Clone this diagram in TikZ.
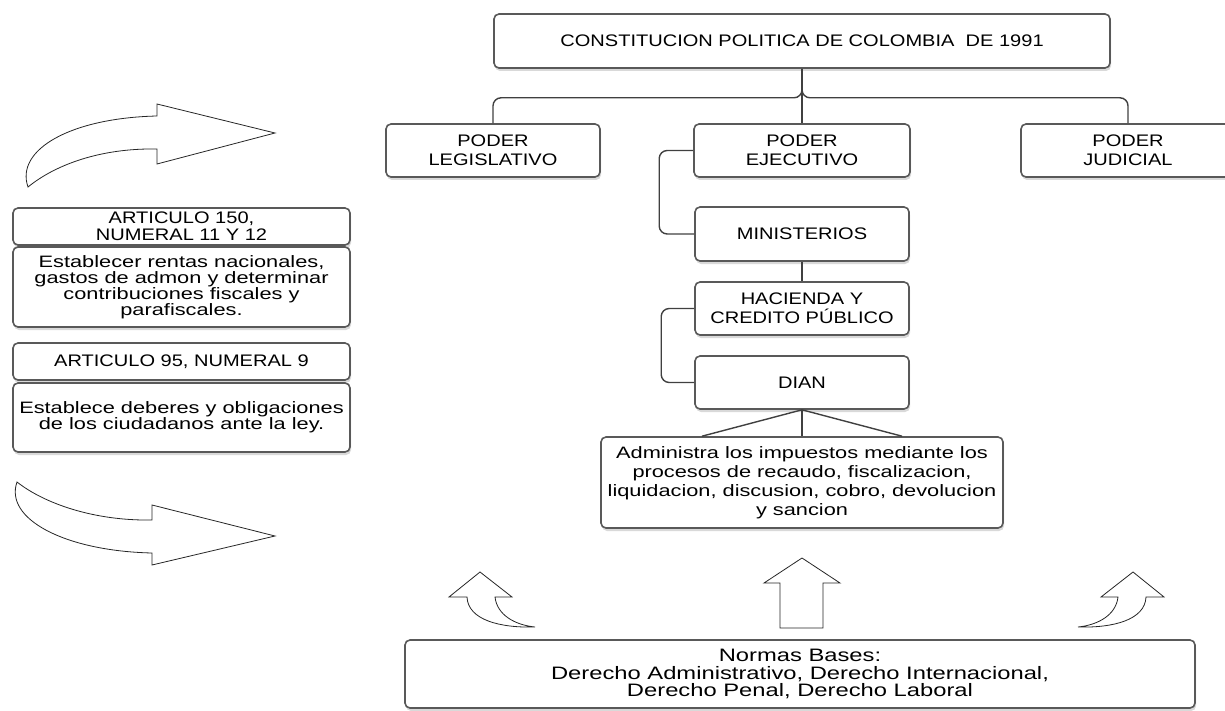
\documentclass[tikz,border=0pt]{standalone}
\usepackage{fontspec}
\setmainfont{Liberation Sans}[FakeStretch=1.2]
\newfontfamily\ancha{Liberation Sans}[FakeStretch=1.32]
\usetikzlibrary{shadows}

\begin{document}
\begin{tikzpicture}[x=1pt, y=-1pt,
    caja/.style={draw=black!65, line width=1.6pt, rounded corners=5pt, fill=white, align=center, inner sep=1pt,
        drop shadow={shadow xshift=1pt, shadow yshift=-3pt, opacity=0.3}, font=\fontsize{16.7}{19}\selectfont},
    texto/.style={font=\ancha\fontsize{16.5}{16}\selectfont},
    linea/.style={draw=black!75, line width=1.4pt},
    flecha/.style={draw=black!85, line width=0.8pt, fill=white}]
    \useasboundingbox (0,0) rectangle (1225,711);

    % estructura del estado
    \node[caja, minimum width=616, minimum height=54] (0) at (802,41) {CONSTITUCION POLITICA DE COLOMBIA\ \ DE 1991};
    \node[caja, minimum width=214, minimum height=53] (1) at (493,150.5) {PODER\\LEGISLATIVO};
    \node[caja, minimum width=216, minimum height=53] (2) at (802,150.5) {PODER\\EJECUTIVO};
    \node[caja, minimum width=214, minimum height=53] (3) at (1128,150.5) {PODER\\JUDICIAL};
    \node[caja, minimum width=214, minimum height=54] (4) at (802,234) {MINISTERIOS};
    \node[caja, minimum width=214, minimum height=53] (5) at (802,308.5) {HACIENDA Y\\CREDITO PÚBLICO};
    \node[caja, minimum width=214, minimum height=53] (6) at (802,382.5) {DIAN};
    \node[caja, texto, minimum width=402, minimum height=91, font=\ancha\fontsize{16.5}{19}\selectfont] (7) at (802,482.5)
        {Administra los impuestos mediante los\\procesos de recaudo, fiscalizacion,\\liquidacion, discusion, cobro, devolucion\\y sancion};

    % articulos
    \node[caja, minimum width=337, minimum height=37, font=\fontsize{16.7}{17}\selectfont] (8) at (181.5,226.5) {ARTICULO 150,\\NUMERAL 11 Y 12};
    \node[caja, texto, minimum width=337, minimum height=80] (9) at (181.5,287)
        {Establecer rentas nacionales,\\gastos de admon y determinar\\contribuciones fiscales y\\parafiscales.};
    \node[caja, minimum width=337, minimum height=37] (10) at (181.5,361.5) {ARTICULO 95, NUMERAL 9};
    \node[caja, texto, minimum width=337, minimum height=69] (11) at (181.5,417.5)
        {Establece deberes y obligaciones\\de los ciudadanos ante la ley.};

    % normas
    \node[caja, minimum width=790, minimum height=68, font=\ancha\fontsize{18}{17.5}\selectfont] (12) at (800,674)
        {Normas Bases:\\Derecho Administrativo, Derecho Internacional,\\Derecho Penal, Derecho Laboral};

    \draw[linea] (0) -- (2);
    \draw[linea, rounded corners=8pt] (0.south) -- ++(0,29) -| (1.north);
    \draw[linea, rounded corners=8pt] (0.south) -- ++(0,29) -| (3.north);
    \draw[linea, rounded corners=8pt] (2.west) -- ++(-34,0) |- (4.west);
    \draw[linea] (4) -- (5);
    \draw[linea, rounded corners=8pt] (5.west) -- ++(-33,0) |- (6.west);
    \draw[linea] (6.south) -- ([xshift=-100pt]7.north);
    \draw[linea] (6) -- (7);
    \draw[linea] (6.south) -- ([xshift=100pt]7.north);

    % flechas
    \draw[flecha] (28,187) .. controls (15,150) and (70,118) .. (157,116) -- (157,104) -- (275,133) -- (157,164)
        -- (157,149) .. controls (100,148) and (55,165) .. (28,187) -- cycle;
    \draw[flecha] (17,482) .. controls (4,519) and (65,551) .. (152,553) -- (152,565) -- (275,536) -- (152,505)
        -- (152,520) .. controls (95,521) and (45,504) .. (17,482) -- cycle;
    \draw[flecha] (480,572) -- (512,597) -- (495,597) .. controls (497,615) and (515,625) .. (535,627)
        .. controls (500,628) and (468,620) .. (467,597) -- (449,597) -- cycle;
    \draw[flecha] (802,558) -- (840,583) -- (823,583) -- (823,628) -- (780,628) -- (780,583) -- (764,583) -- cycle;
    \draw[flecha] (1133,572) -- (1101,597) -- (1118,597) .. controls (1116,615) and (1098,625) .. (1078,627)
        .. controls (1113,628) and (1145,620) .. (1146,597) -- (1164,597) -- cycle;
\end{tikzpicture}
\end{document}
